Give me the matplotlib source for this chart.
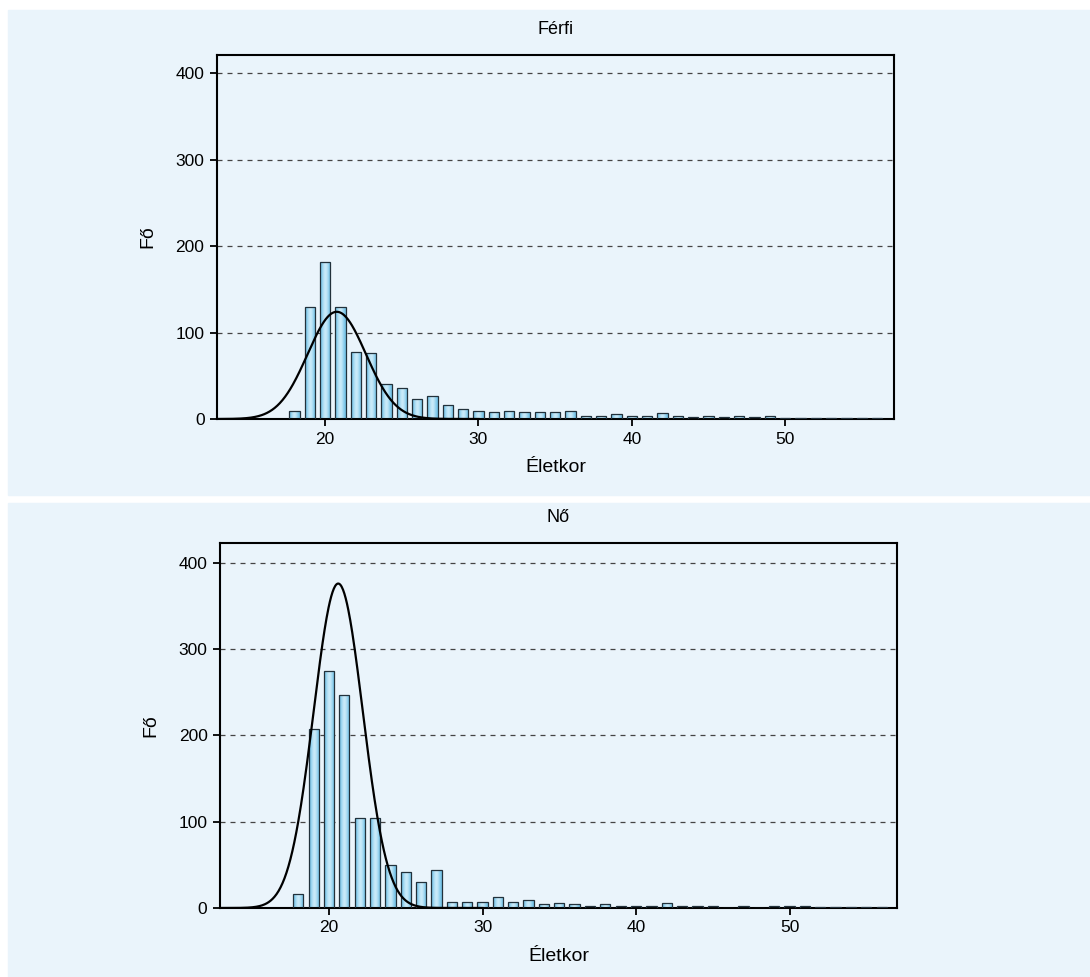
import numpy as np
import matplotlib.pyplot as plt
from matplotlib.patches import Rectangle
from matplotlib.colors import LinearSegmentedColormap

plt.rcParams['font.family'] = ['Liberation Sans', 'DejaVu Sans']

# ages (bins of one year)
ages = list(range(18, 57))

# Férfi counts
ferfi = [9, 130, 182, 130, 77, 76, 40, 36, 23, 27, 16, 11, 9, 8, 9, 8, 8, 8, 9,
         3, 3, 6, 3, 3, 6.5, 3, 2, 3.5, 2.5, 3, 2.5, 3, 1, 1, 1, 1, 1, 1, 1]
# Nő counts
no = [16, 207, 275, 247, 104, 104, 50, 42, 30.5, 44, 7.5, 7.5, 7.5, 12.3, 7.3, 9.3,
      4.2, 5.8, 4.2, 2, 4.2, 2, 2, 2, 6.2, 2, 2, 2, 0, 2, 0, 2,
      2, 2, 0.8, 0.8, 0.8, 0.8, 0.8]

# normal overlay parameters (centre, sd, peak height)
ferfi_norm = (20.76, 1.9, 124)
no_norm = (20.6, 1.6, 376)

panel_col = "#EAF4FB"
bar_edge = "#22313b"
bar_cmap = LinearSegmentedColormap.from_list("b", ["#74c3e8", "#d6f0fb"])


def draw_panel(rect, counts, norm, title, xlim, ylim):
    ax = fig.add_axes(rect)
    ax.set_facecolor(panel_col)
    bars = ax.bar(ages, counts, width=0.67, facecolor="none",
                  edgecolor=bar_edge, linewidth=0.9, zorder=6)
    # light gradient inside each bar
    grad = np.array([[0.0, 0.6, 1.0, 0.6, 0.0]])
    for b in bars:
        x0 = b.get_x()
        w = b.get_width()
        h = b.get_height()
        if h <= 0:
            continue
        im = ax.imshow(grad, extent=[x0, x0 + w, 0, h], aspect="auto",
                       cmap=bar_cmap, interpolation="bicubic", zorder=2)
        im.set_clip_path(b)

    mu, sd, peak = norm
    xs = np.linspace(xlim[0], 30, 400)
    ax.plot(xs, peak * np.exp(-0.5 * ((xs - mu) / sd) ** 2),
            color="black", linewidth=1.6, zorder=7)

    ax.set_xlim(xlim)
    ax.set_ylim(ylim)
    ax.set_yticks([0, 100, 200, 300, 400])
    ax.set_xticks([20, 30, 40, 50])
    ax.yaxis.grid(True, linestyle=(0, (4, 4)), color="#444444", linewidth=0.9)
    ax.set_axisbelow(True)
    for s in ax.spines.values():
        s.set_linewidth(1.5)
        s.set_zorder(5)
    ax.tick_params(direction="out", length=5, width=1.3, labelsize=12.5,
                   pad=4)
    ax.set_title(title, fontsize=13, pad=15)
    ax.set_xlabel("Életkor", fontsize=14, labelpad=9)
    ax.set_ylabel("Fő", fontsize=14, labelpad=14)
    return ax


fig = plt.figure(figsize=(10.9, 9.77), dpi=100)
fig.patch.set_facecolor("white")
fig.patches.append(Rectangle((8 / 1090, 1 - 495 / 977), 1, 485 / 977,
                             transform=fig.transFigure, color=panel_col,
                             zorder=-1))
fig.patches.append(Rectangle((8 / 1090, 0), 1, 1 - 503 / 977,
                             transform=fig.transFigure, color=panel_col,
                             zorder=-1))

draw_panel([217 / 1090, 1 - 419 / 977, 677 / 1090, 364 / 977],
           ferfi, ferfi_norm, "Férfi", (12.95, 57.1), (0, 421))
draw_panel([220 / 1090, 1 - 908 / 977, 677 / 1090, 365 / 977],
           no, no_norm, "Nő", (12.9, 57.0), (0, 423))

plt.savefig("out.png", dpi=100)
